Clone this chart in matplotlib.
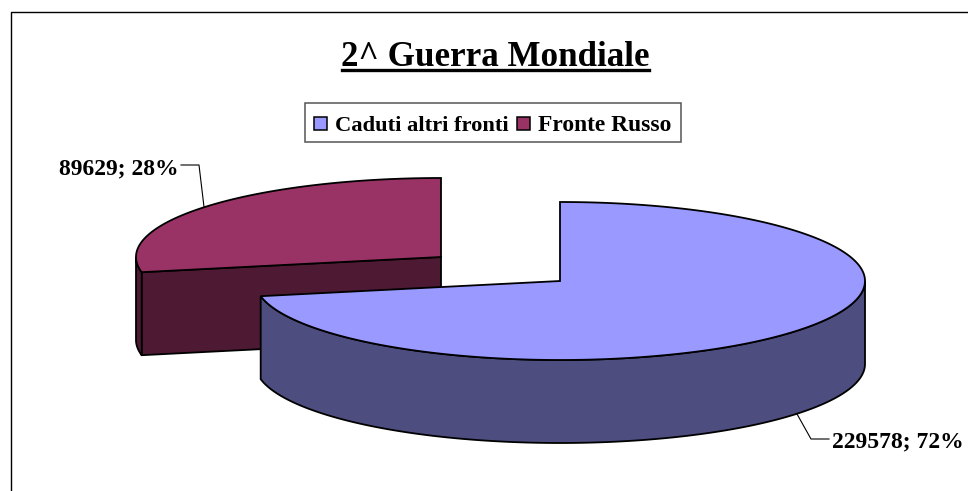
import numpy as np
from matplotlib import pyplot as plt
from matplotlib.patches import Polygon, Rectangle

title = "2^ Guerra Mondiale"
categories = ["Caduti altri fronti", "Fronte Russo"]
values = [229578, 89629]
top_colors = ["#9999FF", "#993366"]
side_colors = ["#4D4D7F", "#4D1933"]
# centre of each slice top, in pixels
centers = [(560, 281), (441, 257)]
RX, RY, DEPTH = 305, 79, 83

plt.rcParams["font.family"] = ["Liberation Serif", "DejaVu Serif"]
plt.rcParams["font.weight"] = "bold"

fig = plt.figure(figsize=(9.68, 4.91), dpi=100)
ax = fig.add_axes([0, 0, 1, 1])
ax.set_xlim(0, 968)
ax.set_ylim(491, 0)
ax.axis("off")

# frame, only top and left are inside the picture
ax.plot([10.5, 10.5, 968], [491, 11.5, 11.5], color="black", lw=1.0)


def arc(cx, cy, a0, a1):
    # angles run clockwise from 12 o'clock
    t = np.radians(np.linspace(a0, a1, 300))
    return np.column_stack([cx + RX * np.sin(t), cy - RY * np.cos(t)])


def draw_slice(i, a0, a1):
    cx, cy = centers[i]
    c = (cx, cy)
    down = np.array([0, DEPTH])
    pts = arc(cx, cy, a0, a1)
    # radial wall of the end of the slice (seen only on the left one)
    if i == 1:
        wall = np.array([pts[0], c, np.array(c) + down, pts[0] + down])
        ax.add_patch(Polygon(wall, fc=side_colors[i], ec="black", lw=1.3, zorder=2))
    # outer curved wall, only the part turned to the viewer
    lo, hi = max(a0, 90), min(a1, 270)
    if lo < hi:
        front = arc(cx, cy, lo, hi)
        ax.add_patch(Polygon(np.vstack([front, (front + down)[::-1]]),
                             fc=side_colors[i], ec="black", lw=1.3, zorder=2 + 2 * (i == 0)))
    ax.add_patch(Polygon(np.vstack([pts, c]), fc=top_colors[i], ec="black", lw=1.3,
                         zorder=3 + 2 * (i == 0)))


fractions = np.array(values) / sum(values)
start = 0
for i, f in enumerate(fractions):
    end = start + 360 * f
    draw_slice(i, start, end)
    start = end

# title with its underline
ax.text(495.5, 66, title, ha="center", va="baseline", fontsize=25.2)
ax.plot([342, 649], [70, 70], color="black", lw=2.4)

# legend
ax.add_patch(Rectangle((304.5, 102.5), 376, 39, fc="white", ec="#555555", lw=1.1))
legend_x = [(314, 335), (517, 538)]
legend_size = [16.2, 16.9]
for i, name in enumerate(categories):
    ax.add_patch(Rectangle((legend_x[i][0], 117), 13, 13, fc=top_colors[i], ec="black", lw=1.1))
    ax.text(legend_x[i][1], 131, name, ha="left", va="baseline", fontsize=legend_size[i])

# data labels with leader lines
pcts = [f"{v}; {round(f * 100)}%" for v, f in zip(values, fractions)]
ax.text(832, 447, pcts[0], ha="left", va="baseline", fontsize=17)
ax.plot([797, 811, 829], [414, 439, 439], color="black", lw=0.8, zorder=1)
ax.text(59, 174, pcts[1], ha="left", va="baseline", fontsize=17)
ax.plot([181, 199, 204], [165, 165, 207], color="black", lw=0.8, zorder=1)

fig.savefig("out.png", dpi=100)
